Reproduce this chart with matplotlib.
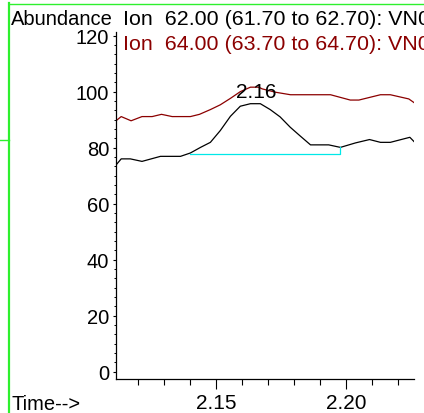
import matplotlib
matplotlib.use('Agg')
import matplotlib.pyplot as plt
from matplotlib.lines import Line2D
from matplotlib.ticker import MultipleLocator, FormatStrFormatter

plt.rcParams['font.family'] = ['Liberation Sans', 'DejaVu Sans']

# Ion 62.00 trace (black), times in minutes
t_62 = [2.1114, 2.1134, 2.1169, 2.1214, 2.1285, 2.1362, 2.1400, 2.1439, 2.1477,
        2.1515, 2.1554, 2.1592, 2.1631, 2.1669, 2.1707, 2.1745, 2.1784, 2.1822,
        2.1862, 2.1932, 2.1977, 2.2035, 2.2089, 2.2131, 2.2169, 2.2244, 2.2263]
abund_62 = [73.8, 76.0, 76.0, 75.1, 76.9, 76.9, 78.1, 80.1, 81.9,
            86.1, 91.2, 94.8, 95.7, 95.7, 93.6, 91.0, 87.3, 84.2,
            81.0, 81.0, 80.1, 81.7, 82.9, 81.9, 81.9, 83.7, 81.9]

# Ion 64.00 trace (dark red)
t_64 = [2.1114, 2.1134, 2.1172, 2.1214, 2.1253, 2.1289, 2.1330, 2.1400, 2.1435,
        2.1477, 2.1515, 2.1554, 2.1592, 2.1631, 2.1663, 2.1676, 2.1727, 2.1785,
        2.1939, 2.2015, 2.2048, 2.2131, 2.2169, 2.2240, 2.2263]
abund_64 = [89.6, 91.1, 89.6, 91.1, 91.1, 91.9, 91.1, 91.1, 91.9,
            93.6, 95.3, 97.6, 100.0, 101.6, 101.6, 101.0, 99.8, 98.9,
            98.9, 97.0, 97.0, 98.9, 98.9, 97.4, 95.9]

# integration baseline for the peak
base_t = [2.1400, 2.1977, 2.1977]
base_y = [77.9, 77.9, 80.1]

peak_label = '2.16'

label_62 = 'Ion  62.00 (61.70 to 62.70): VN0'
label_64 = 'Ion  64.00 (63.70 to 64.70): VN0'

W, H = 424, 414
fig = plt.figure(figsize=(W / 100, H / 100), dpi=100)
ax = fig.add_axes([116 / W, 1 - 380 / H, (414 - 116) / W, (380 - 33) / H])

ax.plot(t_64, abund_64, color='#8b0000', lw=0.9)
ax.plot(t_62, abund_62, color='black', lw=0.9)
ax.plot(base_t, base_y, color='#00e8e8', lw=0.9)
ax.text(2.1653, 100, peak_label, ha='center', va='center', fontsize=15)

ax.set_xlim(2.1114, 2.2260)
ax.set_ylim(-2.6, 121.3)
ax.xaxis.set_major_locator(MultipleLocator(0.05))
ax.xaxis.set_minor_locator(MultipleLocator(0.01))
ax.yaxis.set_major_locator(MultipleLocator(20))
ax.yaxis.set_minor_locator(MultipleLocator(20 / 6))
ax.xaxis.set_major_formatter(FormatStrFormatter('%.2f'))

for s in ['top', 'right']:
    ax.spines[s].set_visible(False)
for s in ['left', 'bottom']:
    ax.spines[s].set_linewidth(0.9)

ax.tick_params(axis='x', which='major', length=7.5, width=0.8, pad=2.5, labelsize=15, direction='out')
ax.tick_params(axis='x', which='minor', length=4, width=0.8, direction='out')
ax.tick_params(axis='y', which='major', length=2.5, width=0.8, pad=2.5, labelsize=14.5, direction='out')
ax.tick_params(axis='y', which='minor', length=1.2, width=0.7, direction='out')

fig.text(11 / W, 1 - 25 / H, 'Abundance', fontsize=14.5, ha='left', va='baseline')
fig.text(123 / W, 1 - 25 / H, label_62, fontsize=15.4, ha='left', va='baseline', color='black')
fig.text(123 / W, 1 - 50 / H, label_64, fontsize=15.4, ha='left', va='baseline', color='#8b0000')
fig.text(11 / W, 1 - 410 / H, 'Time-->', fontsize=14.5, ha='left', va='baseline')

# green window frame lines
green = '#2ef02e'
fig.add_artist(Line2D([9.3 / W, 9.3 / W], [0, 1 - 4 / H], color=green, lw=1.6))
fig.add_artist(Line2D([9.3 / W, 1], [1 - 4.7 / H, 1 - 4.7 / H], color=green, lw=1.0))
fig.add_artist(Line2D([0, 9.3 / W], [1 - 141 / H, 1 - 141 / H], color=green, lw=1.0))

fig.savefig('out.png', dpi=100)
